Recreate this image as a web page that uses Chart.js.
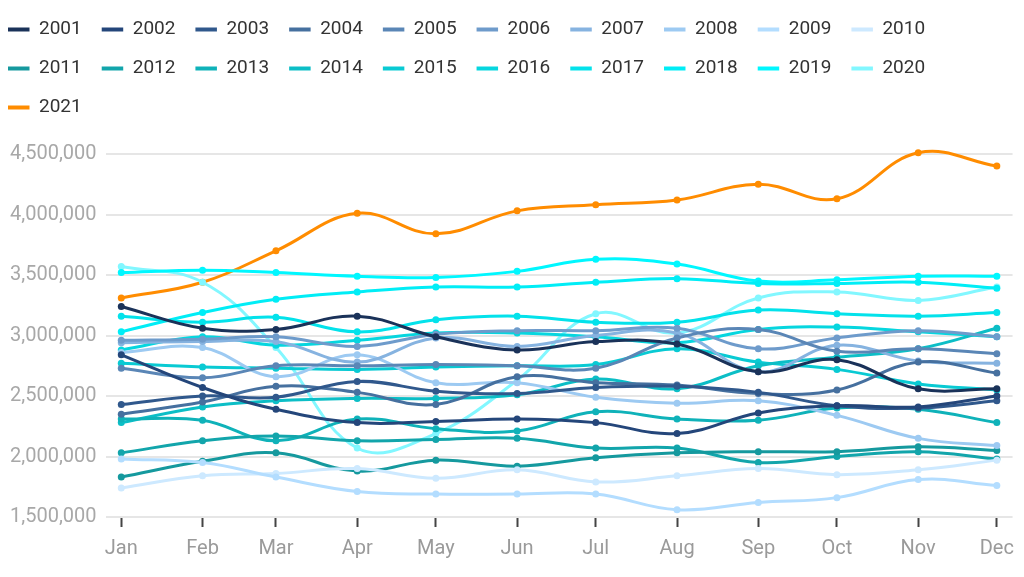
<!DOCTYPE html>
<html lang="en">
<head>
<meta charset="UTF-8">
<title>Monthly totals 2001-2021</title>
<style>
  html, body { margin: 0; padding: 0; background: #fff; }
  #wrap { position: relative; width: 1024px; height: 577px; }
</style>
</head>
<body>
<div id="wrap"><canvas id="chart"></canvas></div>

<script src="https://cdn.jsdelivr.net/npm/chart.js"></script>
<script>
  // months sit on a day-of-year axis, so Feb is a little shorter
  const months = ['Jan', 'Feb', 'Mar', 'Apr', 'May', 'Jun', 'Jul', 'Aug', 'Sep', 'Oct', 'Nov', 'Dec'];
  const monthStart = [0, 31, 59, 90, 120, 151, 181, 212, 243, 273, 304, 334];
  const years = ['2001', '2002', '2003', '2004', '2005', '2006', '2007', '2008', '2009', '2010',
                 '2011', '2012', '2013', '2014', '2015', '2016', '2017', '2018', '2019', '2020', '2021'];
  const yTicks = [1500000, 2000000, 2500000, 3000000, 3500000, 4000000, 4500000];

  const y2001 = [3240000, 3060000, 3050000, 3160000, 2990000, 2880000, 2950000, 2930000, 2700000, 2800000, 2560000, 2560000];
  const y2002 = [2840000, 2570000, 2390000, 2280000, 2290000, 2310000, 2280000, 2190000, 2360000, 2420000, 2410000, 2500000];
  const y2003 = [2430000, 2500000, 2490000, 2620000, 2540000, 2520000, 2570000, 2580000, 2530000, 2420000, 2400000, 2460000];
  const y2004 = [2350000, 2450000, 2580000, 2530000, 2430000, 2660000, 2610000, 2590000, 2520000, 2550000, 2780000, 2690000];
  const y2005 = [2730000, 2650000, 2750000, 2750000, 2760000, 2750000, 2730000, 2980000, 3050000, 2870000, 2890000, 2850000];
  const y2006 = [2960000, 2970000, 2990000, 2910000, 3010000, 3040000, 3040000, 3060000, 2890000, 2980000, 3040000, 2990000];
  const y2007 = [2940000, 2950000, 2950000, 2780000, 2980000, 2910000, 3000000, 3020000, 2700000, 2920000, 2790000, 2770000];
  const y2008 = [2860000, 2900000, 2660000, 2840000, 2610000, 2610000, 2490000, 2440000, 2460000, 2340000, 2150000, 2090000];
  const y2009 = [1980000, 1950000, 1830000, 1710000, 1690000, 1690000, 1690000, 1560000, 1620000, 1660000, 1810000, 1760000];
  const y2010 = [1740000, 1840000, 1860000, 1900000, 1820000, 1890000, 1790000, 1840000, 1900000, 1850000, 1890000, 1970000];
  const y2011 = [1830000, 1960000, 2030000, 1880000, 1970000, 1920000, 1990000, 2030000, 2040000, 2040000, 2080000, 2050000];
  const y2012 = [2030000, 2130000, 2170000, 2130000, 2140000, 2150000, 2070000, 2070000, 1950000, 2000000, 2040000, 1980000];
  const y2013 = [2310000, 2300000, 2130000, 2310000, 2230000, 2210000, 2370000, 2310000, 2300000, 2400000, 2390000, 2280000];
  const y2014 = [2280000, 2410000, 2460000, 2480000, 2480000, 2510000, 2640000, 2560000, 2750000, 2820000, 2890000, 3060000];
  const y2015 = [2770000, 2740000, 2730000, 2720000, 2740000, 2750000, 2760000, 2890000, 2780000, 2720000, 2600000, 2550000];
  const y2016 = [2880000, 2990000, 2920000, 2960000, 3020000, 3020000, 2990000, 2940000, 3050000, 3070000, 3030000, 2990000];
  const y2017 = [3160000, 3110000, 3150000, 3030000, 3130000, 3160000, 3110000, 3110000, 3210000, 3180000, 3160000, 3190000];
  const y2018 = [3030000, 3190000, 3300000, 3360000, 3400000, 3400000, 3440000, 3470000, 3430000, 3430000, 3440000, 3390000];
  const y2019 = [3520000, 3540000, 3520000, 3490000, 3480000, 3530000, 3630000, 3590000, 3450000, 3460000, 3490000, 3490000];
  const y2020 = [3570000, 3440000, 2900000, 2070000, 2190000, 2630000, 3180000, 3020000, 3310000, 3360000, 3290000, 3400000];
  const y2021 = [3310000, 3440000, 3700000, 4010000, 3840000, 4030000, 4080000, 4120000, 4250000, 4130000, 4510000, 4400000];

  const series = [y2001, y2002, y2003, y2004, y2005, y2006, y2007, y2008, y2009, y2010,
                  y2011, y2012, y2013, y2014, y2015, y2016, y2017, y2018, y2019, y2020, y2021];

  const colors = ['#1a3259', '#24467a', '#30588c', '#46709f', '#5a86b6', '#6e9bcb', '#86b3e0', '#9dcaf2', '#b3ddff', '#cde9ff',
                  '#15999e', '#12a5ab', '#0fb2b9', '#0cbec6', '#09cad3', '#06d6df', '#03e2eb', '#00edf6', '#00f7ff', '#82f7ff',
                  '#ff8c00'];

  Chart.defaults.font.family = 'Roboto';

  // extra room under the legend + nudge it to the left edge
  const legendSpacing = {
    id: 'legendSpacing',
    beforeInit(chart) {
      const fit = chart.legend.fit;
      chart.legend.fit = function () {
        fit.call(this);
        this.height += 27;
      };
    },
    afterLayout(chart) {
      chart.legend.left -= 13;
    }
  };

  const datasets = series.map((vals, i) => ({
    label: years[i],
    data: vals.map((v, j) => ({ x: monthStart[j], y: v })),
    borderColor: colors[i],
    backgroundColor: colors[i],
    pointBackgroundColor: colors[i],
    borderWidth: 3,
    pointRadius: 3.5,
    pointBorderWidth: 0,
    tension: 0.4,
    clip: false
  }));

  new Chart(document.getElementById('chart'), {
    type: 'line',
    data: { datasets: datasets },
    plugins: [legendSpacing],
    options: {
      responsive: true,
      maintainAspectRatio: false,
      animation: false,
      layout: { padding: { left: 1, right: 2, top: 0, bottom: 6 } },
      plugins: {
        legend: {
          align: 'start',
          labels: {
            usePointStyle: true,
            pointStyle: 'line',
            pointStyleWidth: 21.5,
            padding: 20,
            color: '#333',
            font: { size: 19 },
            generateLabels: chart => Chart.defaults.plugins.legend.labels.generateLabels(chart)
              .map(item => Object.assign(item, { lineWidth: 4, strokeStyle: colors[item.datasetIndex] }))
          }
        },
        tooltip: { enabled: false }
      },
      scales: {
        x: {
          type: 'linear',
          min: -6,
          max: 340,
          afterBuildTicks: axis => { axis.ticks = monthStart.map(v => ({ value: v })); },
          ticks: {
            autoSkip: false,
            maxRotation: 0,
            padding: 10,
            color: '#9a9a9a',
            font: { size: 20 },
            callback: (value, index) => months[index]
          },
          grid: { drawOnChartArea: false, tickLength: 10, tickColor: '#444', tickWidth: 2 },
          border: { display: false }
        },
        y: {
          min: yTicks[0],
          max: yTicks[yTicks.length - 1],
          afterBuildTicks: axis => { axis.ticks = yTicks.map(v => ({ value: v })); },
          ticks: {
            padding: 9,
            color: '#a8a8a8',
            font: { size: 20 },
            callback: v => v.toLocaleString('en-US')
          },
          grid: { color: '#e6e6e6', lineWidth: 2, drawTicks: false },
          border: { display: false }
        }
      }
    }
  });
</script>
</body>
</html>
